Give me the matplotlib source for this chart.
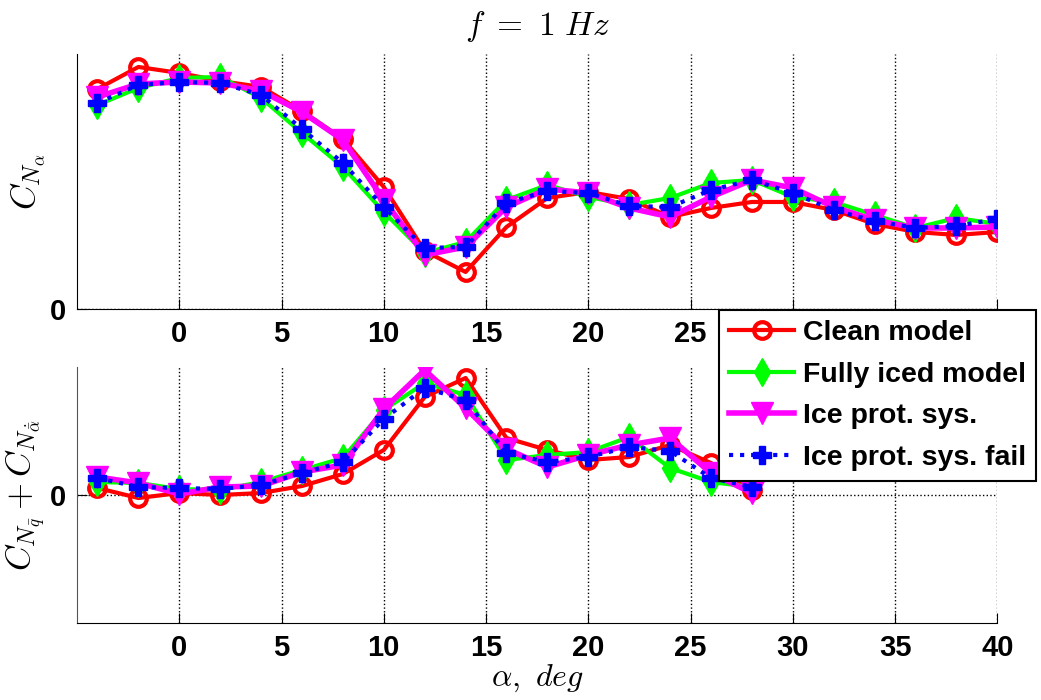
import numpy as np
import matplotlib
matplotlib.use("Agg")
import matplotlib.pyplot as plt

plt.rcParams['font.family'] = ['Liberation Sans', 'DejaVu Sans']
plt.rcParams['mathtext.fontset'] = 'cm'

alpha = [-4, -2, 0, 2, 4, 6, 8, 10, 12, 14, 16, 18, 20, 22, 24, 26, 28, 30, 32, 34, 36, 38, 40]

# C_N_alpha (top panel), arbitrary units
cna_clean = [2.20, 2.42, 2.36, 2.28, 2.22, 1.98, 1.70, 1.22, 0.58, 0.37, 0.82, 1.11, 1.17, 1.10, 0.92, 1.01, 1.07, 1.07, 0.99, 0.85, 0.77, 0.74, 0.77]
cna_iced = [2.04, 2.21, 2.31, 2.32, 2.11, 1.76, 1.42, 0.97, 0.56, 0.67, 1.09, 1.24, 1.12, 1.04, 1.11, 1.26, 1.29, 1.12, 1.07, 0.94, 0.81, 0.91, 0.85]
cna_ips = [2.12, 2.25, 2.27, 2.26, 2.18, 1.97, 1.69, 1.09, 0.54, 0.62, 1.02, 1.20, 1.16, 1.01, 0.92, 1.12, 1.29, 1.21, 1.02, 0.89, 0.81, 0.81, 0.82]
cna_fail = [2.06, 2.24, 2.27, 2.26, 2.14, 1.80, 1.46, 1.02, 0.61, 0.62, 1.06, 1.18, 1.16, 1.03, 1.02, 1.19, 1.29, 1.16, 0.99, 0.88, 0.81, 0.83, 0.90]

# C_N_qbar + C_N_alphadot (bottom panel)
cnq_clean = [0.07, -0.03, 0.02, 0.00, 0.02, 0.09, 0.21, 0.45, 0.98, 1.17, 0.57, 0.45, 0.35, 0.38, 0.50, 0.32, 0.05, 0.45, 0.50, 0.55, 0.55, 0.50, 0.50]
cnq_iced = [0.13, 0.12, 0.06, 0.05, 0.13, 0.25, 0.37, 0.85, 1.12, 1.00, 0.35, 0.40, 0.43, 0.58, 0.27, 0.13, 0.08, 0.60, 0.55, 0.60, 0.55, 0.55, 0.50]
cnq_ips = [0.18, 0.12, 0.01, 0.08, 0.09, 0.23, 0.30, 0.86, 1.25, 0.87, 0.46, 0.28, 0.40, 0.50, 0.57, 0.22, 0.02, 0.50, 0.55, 0.55, 0.55, 0.50, 0.50]
cnq_fail = [0.17, 0.08, 0.07, 0.06, 0.10, 0.22, 0.33, 0.76, 1.07, 0.95, 0.42, 0.33, 0.38, 0.48, 0.44, 0.17, 0.08, 0.50, 0.55, 0.55, 0.55, 0.50, 0.50]

labels = ['Clean model', 'Fully iced model', 'Ice prot. sys.', 'Ice prot. sys. fail']

fig = plt.figure(figsize=(10.41, 7.0), dpi=100)
ax1 = fig.add_axes([0.074, 0.5586, 0.884, 0.3643])
ax2 = fig.add_axes([0.074, 0.11, 0.884, 0.3657])

def draw(ax, ys):
    hs = []
    h, = ax.plot(alpha, ys[0], '-o', color='red', lw=3, ms=12, mfc='none', mec='red', mew=3)
    hs.append(h)
    h, = ax.plot(alpha, ys[1], '-d', color='#00ff00', lw=3, ms=14, mfc='#00ff00', mec='#00ff00')
    hs.append(h)
    h, = ax.plot(alpha, ys[2], '-v', color='magenta', lw=4, ms=16, mfc='magenta', mec='magenta')
    hs.append(h)
    h, = ax.plot(alpha, ys[3], ':P', color='blue', lw=3, ms=13, mfc='blue', mec='blue')
    hs.append(h)
    return hs

handles = draw(ax1, [cna_clean, cna_iced, cna_ips, cna_fail])
draw(ax2, [cnq_clean, cnq_iced, cnq_ips, cnq_fail])

for ax in (ax1, ax2):
    ax.set_xlim(-5, 40)
    ax.set_xticks(range(0, 41, 5))
    ax.set_yticks([0])
    for s in ('top', 'right'):
        ax.spines[s].set_visible(False)
    ax.grid(True, linestyle=':', color='black', lw=1)
    ax.tick_params(direction='in', length=7, labelsize=21, pad=8)
    for t in ax.get_xticklabels() + ax.get_yticklabels():
        t.set_fontweight('bold')

ax1.set_ylim(0, 2.55)
ax2.set_ylim(-1.28, 1.28)
ax2.spines['left'].set_color('#555555')

ax1.set_ylabel(r'$C_{N_\alpha}$', fontsize=25, labelpad=2)
ax2.set_ylabel(r'$C_{N_{\bar{q}}}+C_{N_{\dot{\bar{\alpha}}}}$', fontsize=25, labelpad=2)
ax2.set_xlabel(r'$\alpha,\ deg$', fontsize=23, labelpad=0)
ax1.set_title(r'$f\ =\ 1\ Hz$', fontsize=24, pad=14)

leg = fig.legend(handles, labels, loc='upper left', bbox_to_anchor=(0.6907, 0.557),
                 borderaxespad=0, fontsize=20.5, handlelength=2.3, labelspacing=0.55,
                 borderpad=0.35, handletextpad=0.3, fancybox=False, framealpha=1,
                 edgecolor='black')
leg.get_frame().set_linewidth(1.5)
for t in leg.get_texts():
    t.set_fontweight('bold')

fig.savefig('out.png', dpi=100)
